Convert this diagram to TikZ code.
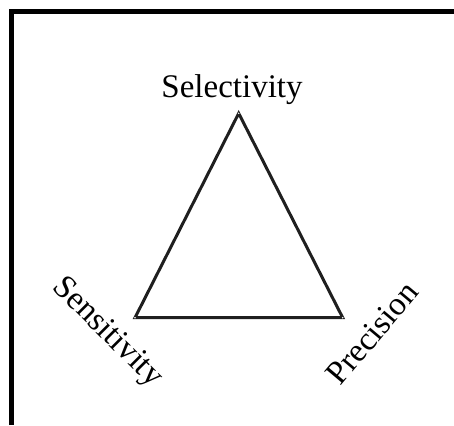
\documentclass[tikz,border=0pt]{standalone}
\usepackage{fontspec}
\setmainfont{Liberation Serif}
\begin{document}
\begin{tikzpicture}[x=1pt,y=-1pt,
  frameline/.style={line width=5pt, line join=miter, black},
  triline/.style={line width=3pt, black!88, line join=miter},
  lbl/.style={font=\fontsize{33}{40}\selectfont, inner sep=0pt}]
\useasboundingbox (0,0) rectangle (454,425);
\draw[frameline] (11.5,425) -- (11.5,11.5) -- (454,11.5);
\coordinate (top) at (238.7,113.3);
\coordinate (bl) at (135,317.7);
\coordinate (br) at (342.7,317.7);
\draw[triline] (top) -- (bl) -- (br) -- cycle;
\foreach \c in {top,bl,br} \fill[white] (\c) circle (0.8pt);
\node[lbl, anchor=base] (sel) at (232,97) {Selectivity};
\node[lbl, rotate=-45] (sen) at (107,333) {Sensitivity};
\node[lbl, rotate=50] (pre) at (372,333) {Precision};
\end{tikzpicture}
\end{document}
